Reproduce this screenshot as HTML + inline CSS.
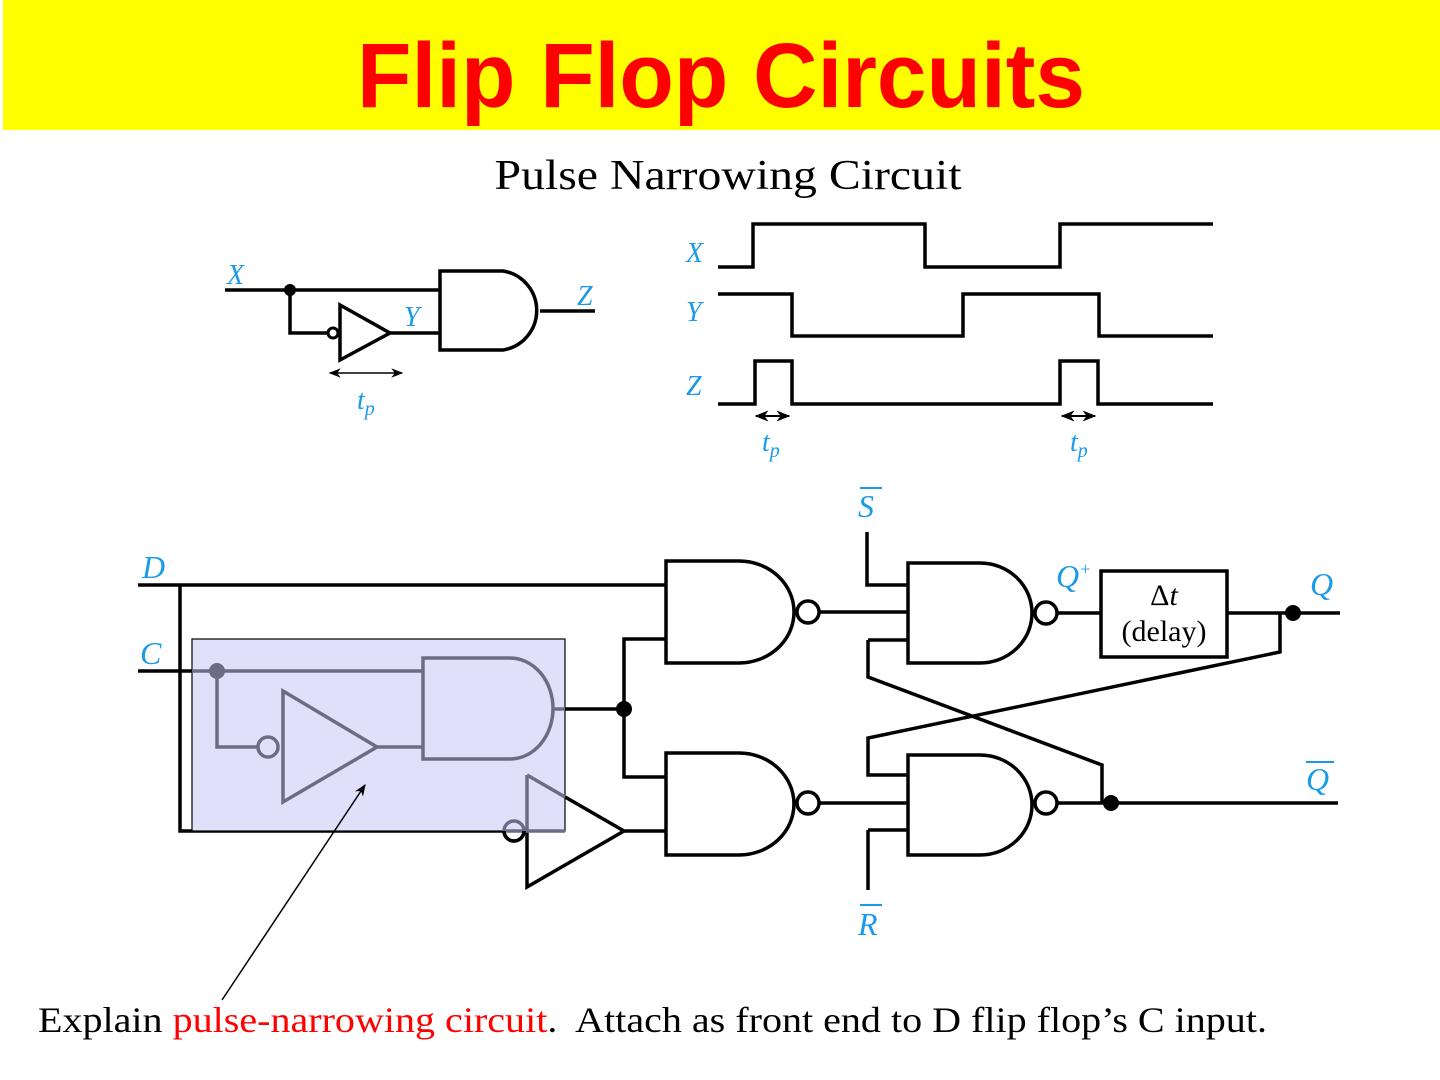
<!DOCTYPE html>
<html><head><meta charset="utf-8"><style>html,body{margin:0;padding:0;background:#fff}svg{display:block}</style></head>
<body>
<svg width="1440" height="1080" viewBox="0 0 1440 1080" xmlns="http://www.w3.org/2000/svg">
<defs>
<marker id="ah" viewBox="0 0 10 10" refX="9" refY="5" markerWidth="8" markerHeight="8" orient="auto-start-reverse"><path d="M0,1 L10,5 L0,9 L3,5 Z" fill="#000"/></marker>
<marker id="ah2" viewBox="0 0 10 10" refX="9" refY="5" markerWidth="7" markerHeight="7" orient="auto-start-reverse"><path d="M0,1 L10,5 L0,9 L3,5 Z" fill="#000"/></marker>
</defs>
<rect x="3" y="0" width="1437" height="130" fill="#ffff00"/>
<text x="721" y="107" text-anchor="middle" font-family="Liberation Sans, sans-serif" font-weight="bold" font-size="92" fill="#ff0000" textLength="728" lengthAdjust="spacingAndGlyphs">Flip Flop Circuits</text>
<text x="728" y="189" text-anchor="middle" font-family="Liberation Serif, serif" font-size="42" fill="#000" textLength="467" lengthAdjust="spacingAndGlyphs">Pulse Narrowing Circuit</text>

<g fill="none" stroke="#000" stroke-width="3.5">
<path d="M225 290 H440 M290 290 V333 H328 M390 333 H440 M540 311 H595"/>
<path d="M440 271 H503 A40 40 0 0 1 503 350 H440 Z"/>
<circle cx="333" cy="333" r="5" stroke-width="3"/>
<path d="M340 305 L390 333 L340 360 Z"/>
<path d="M718 267 H753 V224 H925 V267 H1060 V224 H1213"/>
<path d="M718 294 H792 V336 H963 V294 H1099 V336 H1213"/>
<path d="M718 404 H755 V361 H792 V404 H1060 V361 H1098 V404 H1213"/>
</g>
<circle cx="290" cy="290" r="6" fill="#000"/>
<line x1="330" y1="373" x2="402" y2="373" stroke="#000" stroke-width="1.5" marker-start="url(#ah)" marker-end="url(#ah)"/>
<line x1="756" y1="416" x2="789" y2="416" stroke="#000" stroke-width="2" marker-start="url(#ah2)" marker-end="url(#ah2)"/>
<line x1="1062" y1="416" x2="1095" y2="416" stroke="#000" stroke-width="2" marker-start="url(#ah2)" marker-end="url(#ah2)"/>
<g font-family="Liberation Serif, serif" font-style="italic" fill="#1a9be8" font-size="28">
<text x="227" y="284">X</text><text x="577" y="305">Z</text><text x="404" y="326">Y</text>
<text x="357" y="409">t<tspan font-size="20" dy="6">p</tspan></text>
<text x="686" y="262">X</text><text x="686" y="321">Y</text><text x="686" y="395">Z</text>
<text x="762" y="451">t<tspan font-size="20" dy="6">p</tspan></text>
<text x="1070" y="451">t<tspan font-size="20" dy="6">p</tspan></text>
</g>

<g fill="none" stroke="#000" stroke-width="3.5">
<path d="M138 585 H666 M180 585 V831 H505 M138 671 H217 M624 709 V639 H666 M624 709 V777 H666 M624 831 H666 M555 709 H624"/>
<path d="M666 561 H739 A55 51 0 0 1 739 663 H666 Z"/>
<circle cx="808" cy="612" r="11"/>
<path d="M666 753 H739 A55 51 0 0 1 739 855 H666 Z"/>
<circle cx="808" cy="803" r="11"/>
<circle cx="514" cy="831" r="10"/>
<path d="M527 775 L624 831 L527 887 Z"/>
<path d="M819 612 H908 M819 803 H908"/>
<path d="M867 532 V585 H908 M868 640 H908 M868 640 V677 L1102 765 V803 M908 775 H868 V738 L1280 652 V613"/>
<path d="M868 830 H908 M868 830 V890"/>
<path d="M908 563 H980 A52 50 0 0 1 980 663 H908 Z"/>
<circle cx="1046" cy="613" r="11"/>
<path d="M908 755 H980 A52 50 0 0 1 980 855 H908 Z"/>
<circle cx="1046" cy="803" r="11"/>
<path d="M1057 613 H1101 M1227 613 H1340 M1057 803 H1338"/>
<rect x="1101" y="571" width="126" height="86"/>
</g>
<circle cx="624" cy="709" r="8" fill="#000"/>
<circle cx="1293" cy="613" r="8" fill="#000"/>
<circle cx="1111" cy="803" r="8" fill="#000"/>
<text x="1164" y="605" text-anchor="middle" font-family="Liberation Serif, serif" font-size="30">Δ<tspan font-style="italic">t</tspan></text>
<text x="1164" y="641" text-anchor="middle" font-family="Liberation Serif, serif" font-size="30">(delay)</text>
<g font-family="Liberation Serif, serif" font-style="italic" fill="#1a9be8" font-size="32">
<text x="142" y="578">D</text><text x="140" y="664">C</text>
<text x="858" y="517">S</text><path d="M860 488 H882" stroke="#1a9be8" stroke-width="2"/>
<text x="1056" y="587">Q<tspan font-size="18" dy="-12">+</tspan></text>
<text x="1310" y="595">Q</text>
<text x="1306" y="790">Q</text><path d="M1306 762 H1334" stroke="#1a9be8" stroke-width="2"/>
<text x="858" y="935">R</text><path d="M860 905 H882" stroke="#1a9be8" stroke-width="2"/>
</g>

<rect x="192" y="639" width="373" height="192" fill="#e0e0fb" stroke="#000" stroke-width="1.2"/>
<g fill="none" stroke="#6c6c84" stroke-width="3.5">
<path d="M192 671 H423 M217 671 V747 H258 M377 747 H423"/>
<circle cx="268" cy="747" r="10"/>
<path d="M283 691 L377 747 L283 802 Z"/>
<path d="M423 658 H510 A43 50.5 0 0 1 510 759 H423 Z"/>
<path d="M553 709 H565"/>
<path d="M505 831 H565"/>
<path d="M527 775 L565 797 M527 775 V831"/>
<path d="M504 831 A10 10 0 0 1 524 831"/>
</g>
<path d="M504 831 A10 10 0 0 0 524 831" fill="none" stroke="#000" stroke-width="3.5"/>
<circle cx="217" cy="671" r="8" fill="#6c6c84"/>
<line x1="222" y1="1000" x2="365" y2="785" stroke="#000" stroke-width="1.5" marker-end="url(#ah)"/>

<text x="38" y="1032" font-family="Liberation Serif, serif" font-size="36" fill="#000" textLength="1229" lengthAdjust="spacingAndGlyphs">Explain <tspan fill="#ff0000">pulse-narrowing circuit</tspan>.&#160; Attach as front end to D flip flop’s C input.</text>
</svg>
</body></html>
